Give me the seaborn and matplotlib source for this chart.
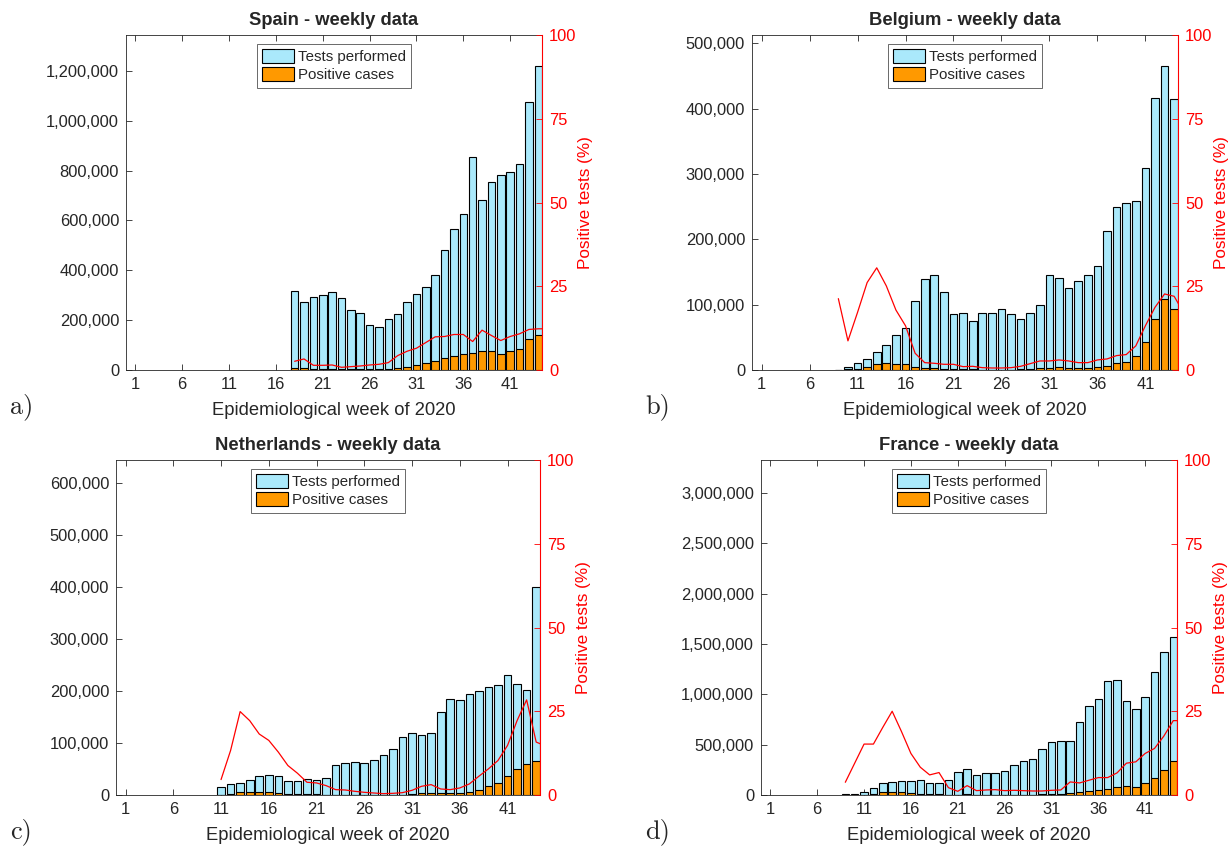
import numpy as np
import pandas as pd
import seaborn as sns
import matplotlib
matplotlib.use("Agg")
import matplotlib.pyplot as plt
from matplotlib.patches import Patch
from matplotlib.ticker import StrMethodFormatter

# weekly data (tests / positives in thousands, share in %)
spain_weeks = list(range(18, 45))
spain_tests = [315, 274, 294, 302, 314, 287, 239, 228, 179, 174, 204, 224, 273, 305,
               331, 383, 482, 566, 627, 856, 683, 756, 782, 796, 828, 1074, 1221]
spain_pos = [8, 8, 4, 4, 4, 3, 3, 3, 3, 3, 4, 8, 13, 19, 27, 37, 47, 57, 64, 68, 77,
             76, 65, 75, 84, 123, 142]
spain_pct_weeks = list(range(18, 46))
spain_pct = [2.6, 3.3, 1.4, 1.4, 1.5, 0.8, 1.0, 1.2, 1.5, 1.7, 2.2, 4.3, 5.6, 6.5,
             8.2, 9.9, 10.0, 10.6, 10.6, 8.5, 11.9, 10.3, 8.8, 10.0, 10.8, 12.1, 12.3, 12.3]

belgium_weeks = list(range(9, 45))
belgium_tests = [0.5, 4.6, 10, 17, 27, 38, 54, 65, 106, 139, 146, 120, 85, 87, 75, 87,
                 88, 93, 85, 78, 87, 99, 145, 141, 126, 137, 145, 159, 213, 250, 256,
                 259, 309, 417, 466, 415]
belgium_pos = [0.1, 1, 2, 4.6, 8.7, 10, 9.7, 8.7, 5, 3, 3, 2, 1.5, 1, 1, 0.7, 0.6, 0.6,
               0.7, 1, 1, 2.5, 3.6, 4, 3, 3, 3, 4, 6, 10.7, 11.7, 21, 43, 78, 109, 93]
belgium_pct_weeks = list(range(9, 46))
belgium_pct = [21.3, 8.7, 17.2, 26.1, 30.5, 25.1, 17.9, 13.2, 5.0, 2.2, 2.0, 1.7, 1.7,
               1.0, 1.1, 0.7, 0.6, 0.6, 0.7, 1.1, 1.9, 2.7, 2.7, 3.0, 2.7, 2.2, 2.2,
               3.0, 3.3, 4.3, 4.6, 7.2, 13.2, 18.7, 22.7, 22.0, 17.0]

netherlands_weeks = list(range(11, 45))
netherlands_tests = [15, 21, 23, 28, 37, 38.5, 36, 27, 27, 31, 28, 32, 57, 62, 64, 62,
                     67, 77, 88, 112, 120, 116, 119, 159, 184, 183, 195, 200, 208, 211,
                     230, 214, 202, 400]
netherlands_pos = [0.7, 2.8, 5.7, 6.0, 6.2, 6.0, 4.3, 2.4, 1.8, 1.2, 1.0, 0.9, 0.9, 0.9,
                   0.7, 0.5, 0.4, 0.3, 0.4, 0.8, 1.7, 3.0, 3.7, 2.9, 2.9, 3.8, 6.2, 10.5,
                   16.5, 22.5, 36, 50, 59, 66]
netherlands_pct_weeks = list(range(11, 46))
netherlands_pct = [4.6, 13.3, 24.9, 22.2, 18.2, 16.3, 12.8, 8.8, 6.5, 3.8, 3.6, 2.8, 1.6,
                   1.5, 1.1, 0.8, 0.6, 0.4, 0.5, 0.7, 1.4, 2.6, 3.1, 1.8, 1.6, 2.1, 3.3,
                   5.6, 7.8, 10.3, 14.8, 22.2, 28.4, 15.8, 14.6]

france_weeks = list(range(9, 45))
france_tests = [5, 13, 30, 73, 123, 126, 139, 143, 153, 119, 119, 149, 232, 255, 202,
                215, 215, 239, 302, 342, 358, 454, 524, 534, 540, 723, 885, 958, 1137,
                1147, 932, 852, 978, 1227, 1426, 1572]
france_pos = [0.2, 1.2, 4.6, 11, 25, 31, 26, 18, 12.7, 7.1, 8, 3.3, 2.6, 7.1, 2.6, 3.2,
              3.4, 3.1, 4.2, 4.4, 4.3, 5.4, 7.3, 8, 21, 26, 39, 50, 59, 76, 88, 84, 120,
              165, 245, 340]
france_pct_weeks = list(range(9, 46))
france_pct = [3.8, 9.5, 15.2, 15.2, 20.2, 25.0, 18.9, 12.4, 8.3, 6.0, 6.7, 2.2, 1.1, 2.8,
              1.3, 1.5, 1.6, 1.3, 1.4, 1.3, 1.2, 1.2, 1.4, 1.5, 3.9, 3.6, 4.4, 5.2, 5.2,
              6.6, 9.5, 9.9, 12.4, 13.9, 17.6, 22.2, 22.2]

GREY = "#262626"
TEST_COLOR = "#aae9fb"
POS_COLOR = "#ff9900"

sns.set_style("ticks")
plt.rcParams["font.family"] = ["Liberation Sans", "DejaVu Sans"]

fig = plt.figure(figsize=(12.28, 8.48), dpi=100)


def px_rect(left, right, top, bottom):
    return [left / 1228, (848 - bottom) / 848, (right - left) / 1228, (bottom - top) / 848]


def draw_panel(rect, title, weeks, tests, pos, pct_weeks, pct, ymax, ystep, ytop):
    ax = fig.add_axes(rect)
    df = pd.DataFrame({"week": weeks,
                       "tests": np.array(tests) * 1000,
                       "positives": np.array(pos) * 1000})
    sns.barplot(data=df, x="week", y="tests", native_scale=True, color=TEST_COLOR,
                saturation=1, edgecolor="black", linewidth=0.8, width=0.8,
                errorbar=None, ax=ax)
    sns.barplot(data=df, x="week", y="positives", native_scale=True, color=POS_COLOR,
                saturation=1, edgecolor="black", linewidth=0.8, width=0.8,
                errorbar=None, ax=ax)

    ax.set_xlim(0, 44.4)
    ax.set_ylim(0, ytop)
    ax.set_xticks(range(1, 42, 5))
    ax.set_yticks(np.arange(0, ymax + 1, ystep))
    ax.yaxis.set_major_formatter(StrMethodFormatter("{x:,.0f}"))
    ax.tick_params(direction="in", length=4, width=0.6, colors=GREY, labelsize=11.9,
                   top=True, right=False, pad=5)
    for s in ["left", "bottom", "top"]:
        ax.spines[s].set_color(GREY)
        ax.spines[s].set_linewidth(0.6)
    ax.spines["right"].set_visible(False)
    ax.set_xlabel("Epidemiological week of 2020", fontsize=13.2, color=GREY, labelpad=7)
    ax.set_ylabel("")
    ax.set_title(title, fontsize=13.2, fontweight="bold", pad=7)

    handles = [Patch(facecolor=TEST_COLOR, edgecolor="black", linewidth=0.8,
                     label="Tests performed"),
               Patch(facecolor=POS_COLOR, edgecolor="black", linewidth=0.8,
                     label="Positive cases")]
    leg = ax.legend(handles=handles, loc="upper center", fontsize=10.8, frameon=True,
                    fancybox=False, borderaxespad=0.6, handlelength=2.1,
                    handleheight=1.0, handletextpad=0.3, labelspacing=0.22,
                    borderpad=0.35)
    leg.get_frame().set_edgecolor(GREY)
    leg.get_frame().set_linewidth(0.6)

    ax2 = ax.twinx()
    sns.lineplot(x=pct_weeks, y=pct, color="red", linewidth=0.9, ax=ax2)
    ax2.set_ylim(0, 100)
    ax2.set_yticks([0, 25, 50, 75, 100])
    ax2.tick_params(axis="y", direction="in", length=4, width=0.6, colors="red",
                    labelsize=11.9, pad=5)
    for s in ["left", "bottom", "top"]:
        ax2.spines[s].set_visible(False)
    ax2.spines["right"].set_color("red")
    ax2.spines["right"].set_linewidth(0.8)
    ax2.set_ylabel("Positive tests (%)", color="red", fontsize=12.3, labelpad=1)
    ax.set_xlim(0, 44.4)
    return ax


draw_panel(px_rect(126, 542, 35, 370), "Spain - weekly data", spain_weeks,
           spain_tests, spain_pos, spain_pct_weeks, spain_pct, 1200000, 200000, 1344000)
draw_panel(px_rect(752, 1178, 35, 370), "Belgium - weekly data", belgium_weeks,
           belgium_tests, belgium_pos, belgium_pct_weeks, belgium_pct, 500000, 100000, 513000)
draw_panel(px_rect(116, 540, 460, 795), "Netherlands - weekly data", netherlands_weeks,
           netherlands_tests, netherlands_pos, netherlands_pct_weeks, netherlands_pct,
           600000, 100000, 644000)
draw_panel(px_rect(761, 1177, 460, 795), "France - weekly data", france_weeks,
           france_tests, france_pos, france_pct_weeks, france_pct, 3000000, 500000, 3330000)

for label, x, y in [("a)", 10, 407), ("b)", 645, 407), ("c)", 10, 832), ("d)", 645, 832)]:
    fig.text(x / 1228, (848 - y) / 848, label, family="cmr10", fontsize=19,
             ha="left", va="center")

fig.savefig("out.png", dpi=100)
